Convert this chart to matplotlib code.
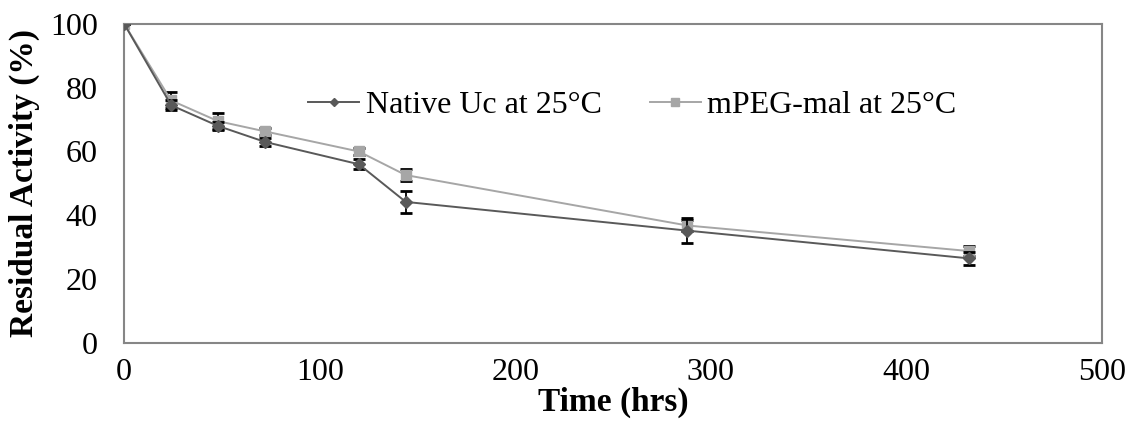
import matplotlib
matplotlib.use('Agg')
import matplotlib.pyplot as plt

plt.rcParams['font.family'] = ['Liberation Serif', 'DejaVu Serif']

time_hrs = [0, 24, 48, 72, 120, 144, 288, 432]
native = [100, 74.5, 68, 63, 56, 44.2, 35.2, 26.5]
native_err = [0, 1.5, 1.2, 1.2, 1.5, 3.4, 4.0, 2.0]
mpeg = [100, 76, 69.5, 66.3, 60, 52.6, 36.8, 28.8]
mpeg_err = [0, 2.5, 2.5, 1.2, 1.2, 2.0, 1.8, 1.7]

FRAME = '#868686'

fig = plt.figure(figsize=(11.29, 4.26), dpi=100)
ax = fig.add_axes([0.110, 0.195, 0.866, 0.749])

ax.errorbar(time_hrs, native, yerr=native_err, color='#595959', ecolor='black',
            marker='D', markersize=6, lw=1.4, capsize=4.5, elinewidth=1.3,
            capthick=2, label='Native Uc at 25\u00b0C', zorder=3)
ax.errorbar(time_hrs, mpeg, yerr=mpeg_err, color='#a6a6a6', ecolor='black',
            marker='s', markersize=7, lw=1.4, capsize=4.5, elinewidth=1.3,
            capthick=2, label='mPEG-mal at 25\u00b0C', zorder=2)

ax.set_xlim(0, 500)
ax.set_ylim(0, 100)
ax.set_xticks(range(0, 501, 100))
ax.set_yticks(range(0, 101, 20))
ax.tick_params(axis='both', length=0, labelsize=23)
ax.tick_params(axis='x', pad=11)
ax.tick_params(axis='y', pad=19)
for s in ax.spines.values():
    s.set_color(FRAME)
    s.set_linewidth(1.5)

ax.set_xlabel('Time (hrs)', fontsize=24, fontweight='bold', labelpad=0)
ax.set_ylabel('Residual Activity (%)', fontsize=24, fontweight='bold', labelpad=7)

handles, labels = ax.get_legend_handles_labels()
handles = [h[0] for h in handles]
ax.legend(handles, labels, loc='center left', bbox_to_anchor=(0.172, 0.745),
          ncol=2, frameon=False, fontsize=23, handlelength=1.6,
          handletextpad=0.2, columnspacing=1.5, borderpad=0, markerscale=0.75)

fig.savefig('out.png', dpi=100)
